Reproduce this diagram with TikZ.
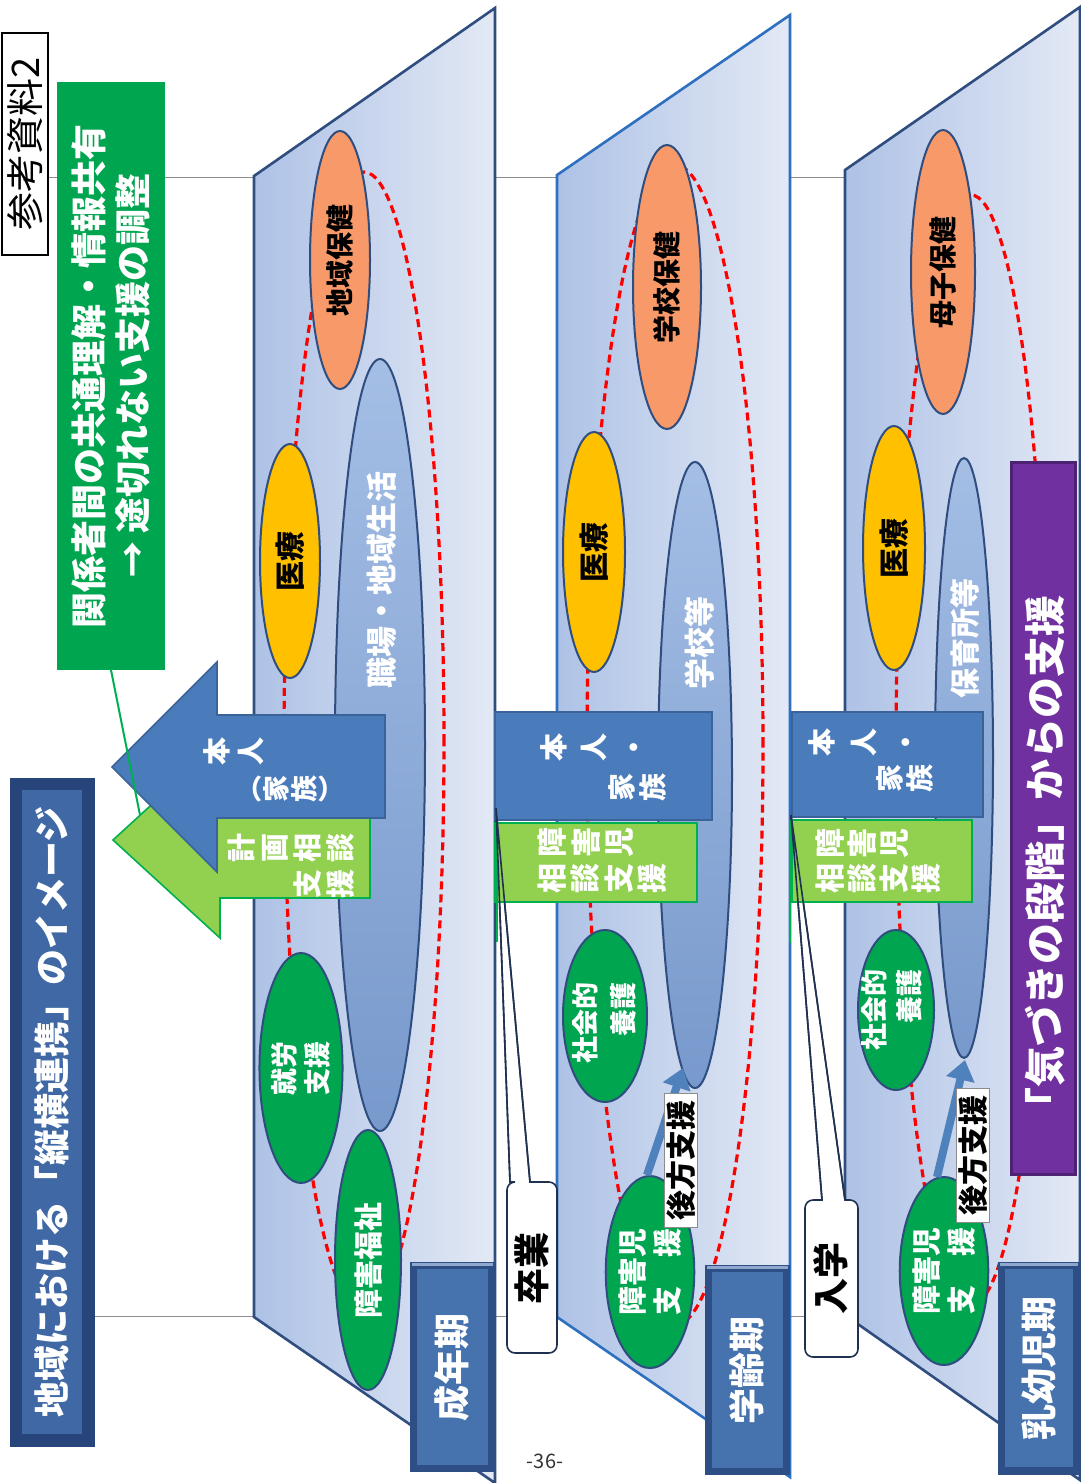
\documentclass[tikz,border=0pt]{standalone}
\usepackage{fontspec}
\setmainfont{Noto Sans CJK JP}
\usetikzlibrary{shapes.geometric,arrows.meta}
\definecolor{navyA}{HTML}{2F4D7E}
\definecolor{blueB}{HTML}{2E6FBF}
\definecolor{panL}{HTML}{AEC2E6}
\definecolor{panR}{HTML}{E3E9F5}
\definecolor{ovOr}{HTML}{F8996A}
\definecolor{ovYe}{HTML}{FFC000}
\definecolor{ovGr}{HTML}{00A550}
\definecolor{ovBL}{HTML}{A4BEE5}
\definecolor{ovBD}{HTML}{7899CC}
\definecolor{arBlue}{HTML}{4A7BBA}
\definecolor{arBlueD}{HTML}{3A6399}
\definecolor{lGreen}{HTML}{92D050}
\definecolor{dGreen}{HTML}{00B050}
\definecolor{gBox}{HTML}{00A550}
\definecolor{purp}{HTML}{7030A0}
\definecolor{purpD}{HTML}{4E2273}
\definecolor{lblOut}{HTML}{2E4F85}
\definecolor{lblIn}{HTML}{4672AD}
\definecolor{lblHi}{HTML}{8FA6CD}
\definecolor{ttlOut}{HTML}{27457A}
\definecolor{ttlIn}{HTML}{3F68A5}
\definecolor{redD}{HTML}{FF0000}
\definecolor{guideC}{HTML}{8C8C8C}
\definecolor{backArr}{HTML}{4F81BD}
\definecolor{callD}{HTML}{1F3050}
\newcommand\fsz[2]{\fontsize{#1pt}{#2pt}\selectfont}
\tikzset{
  rtxt/.style={rotate=90, align=center, inner sep=0pt, outer sep=0pt},
  wtxt/.style={rtxt, text=white},
  oval/.style={ellipse, rotate=90, draw=navyA, line width=1pt, inner sep=0pt, align=center},
  panel/.style={line width=1.3pt, left color=panL, right color=panR},
  redloop/.style={draw=redD, line width=1.6pt, dash pattern=on 4pt off 2.5pt},
  guide/.style={draw=guideC, line width=0.4pt},
  bandblue/.style={fill=arBlue, draw=arBlueD, line width=0.8pt},
  bandgreen/.style={fill=lGreen, draw=dGreen, line width=0.8pt},
  gline/.style={draw=dGreen, line width=1pt},
  callout/.style={fill=white, draw=callD, line width=0.8pt},
  backarrow/.style={draw=backArr, line width=4pt, -{Triangle[width=14pt,length=10pt]}},
  backlabel/.style={rtxt, fill=white, draw=guideC, line width=0.4pt, minimum width=67pt, minimum height=16.5pt, font=\bfseries\fsz{15}{15}},
  lblbox/.style={rtxt, fill=lblIn, text=white, font=\bfseries\fsz{18}{18}},
}
\begin{document}
\begin{tikzpicture}[x=0.5pt,y=-0.5pt]
\useasboundingbox (0,0) rectangle (1081,1483);
\fill[white] (0,0) rectangle (1081,1483);

% guide lines
\draw[guide] (48,177) -- (1081,177);
\draw[guide] (93,1316) -- (1081,1316);

% panels
\draw[panel, draw=navyA] (254,176) -- (495,8) -- (495,1483) -- (254,1317) -- cycle;
\draw[panel, draw=blueB] (557,175) -- (790,15) -- (790,1477) -- (557,1317) -- cycle;
\draw[panel, draw=navyA] (845,170) -- (1080,7) -- (1080,1480) -- (845,1315) -- cycle;

% red dashed loops
\draw[redloop] (364,742) ellipse [x radius=40pt, y radius=285pt];
\draw[redloop] (675,745) ellipse [x radius=44pt, y radius=290pt];
\draw[redloop] (971,750) ellipse [x radius=37.5pt, y radius=277.5pt];

% blue ovals
\node[oval, top color=ovBL, bottom color=ovBD, minimum width=386pt, minimum height=45pt] (p1work) at (380,745) {};
\node[oval, top color=ovBL, bottom color=ovBD, minimum width=313pt, minimum height=37pt] (p2school) at (695,775) {};
\node[oval, top color=ovBL, bottom color=ovBD, minimum width=300pt, minimum height=29pt] (p3hoiku) at (964,758) {};
\node[wtxt, font=\bfseries\fsz{15.5}{15.5}] (p1workt) at (382,580) {職場・地域生活};
\node[wtxt, font=\bfseries\fsz{15.5}{15.5}] (p2schoolt) at (700,643) {学校等};
\node[wtxt, font=\bfseries\fsz{15}{15}] (p3hoikut) at (965,638) {保育所等};

% panel 1 ovals
\node[oval, fill=ovOr, minimum width=129pt, minimum height=30pt, font=\bfseries\fsz{14}{14}] (p1chiiki) at (340,260) {地域保健};
\node[oval, fill=ovYe, minimum width=117pt, minimum height=30pt, font=\bfseries\fsz{15}{15}] (p1iryo) at (290,561) {医療};
\node[oval, fill=ovGr, text=white, minimum width=115pt, minimum height=31pt, font=\bfseries\fsz{13.5}{16.5}] (p1shuro) at (301,1068) {就労\\支援};
\node[oval, fill=ovGr, text=white, minimum width=130pt, minimum height=33pt, font=\bfseries\fsz{14.5}{14.5}] (p1fukushi) at (368,1260) {障害福祉};

% panel 2 ovals
\node[oval, fill=ovOr, minimum width=142pt, minimum height=34pt, font=\bfseries\fsz{14}{14}] (p2gakko) at (667,287) {学校保健};
\node[oval, fill=ovYe, minimum width=120pt, minimum height=31pt, font=\bfseries\fsz{15}{15}] (p2iryo) at (594,552) {医療};
\node[oval, fill=ovGr, minimum width=86pt, minimum height=42pt] (p2yogo) at (605,1016) {};
\node[wtxt, align=right, font=\bfseries\fsz{13.5}{19}] (p2yogot) at (604,1023) {社会的\\養護};
\node[oval, fill=ovGr, text=white, minimum width=96pt, minimum height=38pt, font=\bfseries\fsz{14.5}{17.5}] (p2shien) at (650,1272) {障害児\\支　援};

% panel 3 ovals
\node[oval, fill=ovOr, minimum width=142pt, minimum height=32pt, font=\bfseries\fsz{14}{14}] (p3boshi) at (943,272) {母子保健};
\node[oval, fill=ovYe, minimum width=122pt, minimum height=31pt, font=\bfseries\fsz{15}{15}] (p3iryo) at (894,548) {医療};
\node[oval, fill=ovGr, minimum width=80pt, minimum height=38pt] (p3yogo) at (896,1010) {};
\node[wtxt, align=right, font=\bfseries\fsz{13.5}{17.5}] (p3yogot) at (892,1010) {社会的\\養護};
\node[oval, fill=ovGr, text=white, minimum width=94pt, minimum height=36pt, font=\bfseries\fsz{14.5}{17.5}] (p3shien) at (944,1271) {障害児\\支　援};

% back-support arrows
\coordinate (ba2s) at (647,1175);
\coordinate (ba2e) at (683,1068);
\draw[backarrow] (ba2s) -- (ba2e);
\node[backlabel] (kh2) at (681,1160) {後方支援};
\coordinate (ba3s) at (937,1177);
\coordinate (ba3e) at (965,1060);
\draw[backarrow] (ba3s) -- (ba3e);
\node[backlabel] (kh3) at (973,1155) {後方支援};

% callouts (below bands)
\coordinate (c1tip) at (496,808);
\coordinate (c1l) at (510,1182);
\coordinate (c1r) at (530,1182);
\draw[callout] (c1l) -- (c1tip) -- (c1r) [rounded corners=4pt] -- (557,1182) -- (557,1353) -- (507,1353) -- (507,1182) [sharp corners] -- cycle;
\node[rtxt, font=\bfseries\fsz{18}{18}] (sotsu) at (532,1268) {卒業};
\coordinate (c2tip) at (791,815);
\coordinate (c2l) at (822,1200);
\coordinate (c2r) at (845,1200);
\draw[callout] (c2l) -- (c2tip) -- (c2r) [rounded corners=4pt] -- (858,1200) -- (858,1357) -- (805,1357) -- (805,1200) [sharp corners] -- cycle;
\node[rtxt, font=\bfseries\fsz{18}{18}] (nyugaku) at (831,1278) {入学};

% panel 1 arrows
\draw[bandgreen] (370,782) -- (220,782) -- (220,742) -- (113,840) -- (220,938) -- (220,898) -- (370,898) -- cycle;
\draw[bandblue] (385,715) -- (217,715) -- (217,662) -- (112,767) -- (217,872) -- (217,818) -- (385,818) -- cycle;
\coordinate (garrowpt) at (140,815);
\node[wtxt, font=\bfseries\fsz{14}{17}] (a1t1) at (234,751) {本\\人};
\node[wtxt, font=\bfseries\fsz{13.5}{12.5}] (a1t2) at (297,789) {︵\\家\\族\\︶};
\node[wtxt, font=\bfseries\fsz{14.5}{16.5}] (g1t1) at (291,848) {計\\画\\相\\談};
\node[wtxt, font=\bfseries\fsz{14.5}{16.5}] (g1t2) at (324,884) {支\\援};

% panel 2 bands
\draw[bandblue] (495,712) rectangle (712,820);
\draw[bandgreen] (495,823) rectangle (697,902);
\draw[gline] (497,823) -- (497,942);
\node[wtxt, font=\bfseries\fsz{14}{20}] (b2t1) at (593,747) {本\\人\\・};
\node[wtxt, font=\bfseries\fsz{14}{15.5}] (b2t2) at (637,787) {家\\族};
\node[wtxt, font=\bfseries\fsz{15}{16.75}] (g2t1) at (586,842) {障\\害\\児};
\node[wtxt, font=\bfseries\fsz{15}{16.75}] (g2t2) at (602,878) {相\\談\\支\\援};

% panel 3 bands
\draw[bandblue] (792,712) rectangle (983,817);
\draw[bandgreen] (792,820) rectangle (972,902);
\draw[gline] (790,820) -- (790,943);
\node[wtxt, font=\bfseries\fsz{14}{21}] (b3t1) at (863,742) {本\\人\\・};
\node[wtxt, font=\bfseries\fsz{14}{15}] (b3t2) at (905,778) {家\\族};
\node[wtxt, font=\bfseries\fsz{15}{16}] (g3t1) at (862,843) {障\\害\\児};
\node[wtxt, font=\bfseries\fsz{15}{16}] (g3t2) at (878,878) {相\\談\\支\\援};

% callout pointer lines on top
\draw[draw=callD, line width=0.8pt] (c1tip) -- (c1l) (c1tip) -- (c1r);
\draw[draw=callD, line width=0.8pt] (c2tip) -- (c2l) (c2tip) -- (c2r);

% purple box
\node[rtxt, fill=purp, draw=purpD, line width=1.5pt, minimum width=356pt, minimum height=32pt] (kiduki) at (1043,818) {};
\node[wtxt, font=\bfseries\fsz{20.5}{20.5}] (kidukit) at (1045,862) {「気づきの段階」からの支援};

% stage labels
\fill[lblOut] (410,1262) rectangle (495,1472);
\draw[lblHi, line width=1.5pt] (412,1264) -- (493,1264);
\node[lblbox, minimum width=98pt, minimum height=35.5pt] (lab1) at (452,1367) {成年期};
\fill[lblOut] (705,1265) rectangle (790,1475);
\draw[lblHi, line width=1.5pt] (707,1267) -- (788,1267);
\node[lblbox, minimum width=98pt, minimum height=35.5pt] (lab2) at (747,1370) {学齢期};
\fill[lblOut] (998,1262) rectangle (1080,1475);
\draw[lblHi, line width=1.5pt] (1000,1264) -- (1078,1264);
\node[lblbox, minimum width=99pt, minimum height=34pt] (lab3) at (1039,1368) {乳幼児期};

% title
\fill[ttlOut] (10,778) rectangle (95,1447);
\node[rtxt, fill=ttlIn, text=white, minimum width=322pt, minimum height=30pt, font=\bfseries\fsz{18}{18}] (title) at (52,1112) {地域における「縦横連携」のイメージ};

% green box
\node[rtxt, fill=gBox, text=white, align=left, minimum width=294pt, minimum height=54pt, font=\bfseries\fsz{18}{22}] (gbox) at (111,376) {関係者間の共通理解・情報共有\\\hspace*{1.4em}→ 途切れない支援の調整};
\draw[gline] (gbox.west) -- (garrowpt);

% reference tag
\node[rtxt, fill=white, draw=black, line width=0.8pt, minimum width=111pt, minimum height=23pt, font=\fsz{19}{19}] (ref) at (25,144) {参考資料2};

% page number
\node[font=\fsz{10}{10}, text=black!80] (pg) at (545,1461) {-36-};
\end{tikzpicture}
\end{document}
